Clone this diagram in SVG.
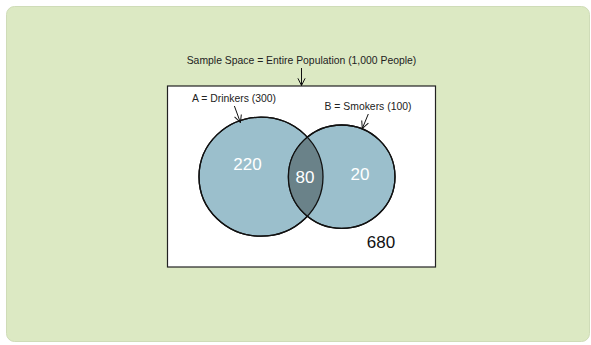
<svg xmlns="http://www.w3.org/2000/svg" width="591" height="345" viewBox="0 0 591 345">
<defs>
<style>
.lbl{font-family:"Liberation Sans",Arial,sans-serif;font-size:10.4px;fill:#222;text-anchor:middle}
.num{font-family:"Liberation Sans",Arial,sans-serif;font-size:17px;fill:#fff;text-anchor:middle}
.set{fill:#9bbfcc;stroke:#111;stroke-width:1.3}
.conn{stroke:#111;stroke-width:1;fill:none}
</style>
<marker id="arr" viewBox="0 0 10 10" refX="9" refY="5" markerWidth="9" markerHeight="9" markerUnits="userSpaceOnUse" orient="auto">
<path d="M1,1 L9,5 L1,9" fill="none" stroke="#111" stroke-width="1.1"/>
</marker>
<clipPath id="clipA"><ellipse cx="261" cy="176.7" rx="62" ry="59.5"/></clipPath>
</defs>
<rect x="6.5" y="6.5" width="583" height="335" rx="8" fill="#dce9c3" stroke="#cfdcb8" stroke-width="1"/>
<g id="sample-space">
<rect x="167.5" y="86" width="268" height="181" fill="#fff" stroke="#222" stroke-width="1.2"/>
<text class="lbl" x="301.5" y="63.5">Sample Space = Entire Population (1,000 People)</text>
<text x="381" y="247.5" style="font-family:'Liberation Sans',Arial,sans-serif;font-size:17px;fill:#111;text-anchor:middle">680</text>
</g>
<g id="set-a">
<ellipse class="set" cx="261" cy="176.7" rx="62" ry="59.5"/>
<text class="lbl" x="234" y="102">A = Drinkers (300)</text>
<text class="num" x="247.5" y="170">220</text>
</g>
<g id="set-b">
<ellipse class="set" cx="341.7" cy="176.7" rx="53.3" ry="51.7"/>
<text class="lbl" x="368" y="110">B = Smokers (100)</text>
<text class="num" x="360" y="180">20</text>
</g>
<g id="intersection">
<ellipse cx="341.7" cy="176.7" rx="53.3" ry="51.7" clip-path="url(#clipA)" fill="#6a8289" stroke="none"/>
<ellipse cx="261" cy="176.7" rx="62" ry="59.5" fill="none" stroke="#111" stroke-width="1.3"/>
<ellipse cx="341.7" cy="176.7" rx="53.3" ry="51.7" fill="none" stroke="#111" stroke-width="1.3"/>
<text class="num" x="305" y="183">80</text>
</g>
<g id="connectors">
<line class="conn" x1="301.5" y1="68" x2="301.5" y2="85.5" marker-end="url(#arr)"/>
<line class="conn" x1="234.4" y1="106" x2="240.4" y2="122.5" marker-end="url(#arr)"/>
<line class="conn" x1="368.3" y1="114" x2="362.3" y2="128.5" marker-end="url(#arr)"/>
</g>
</svg>
